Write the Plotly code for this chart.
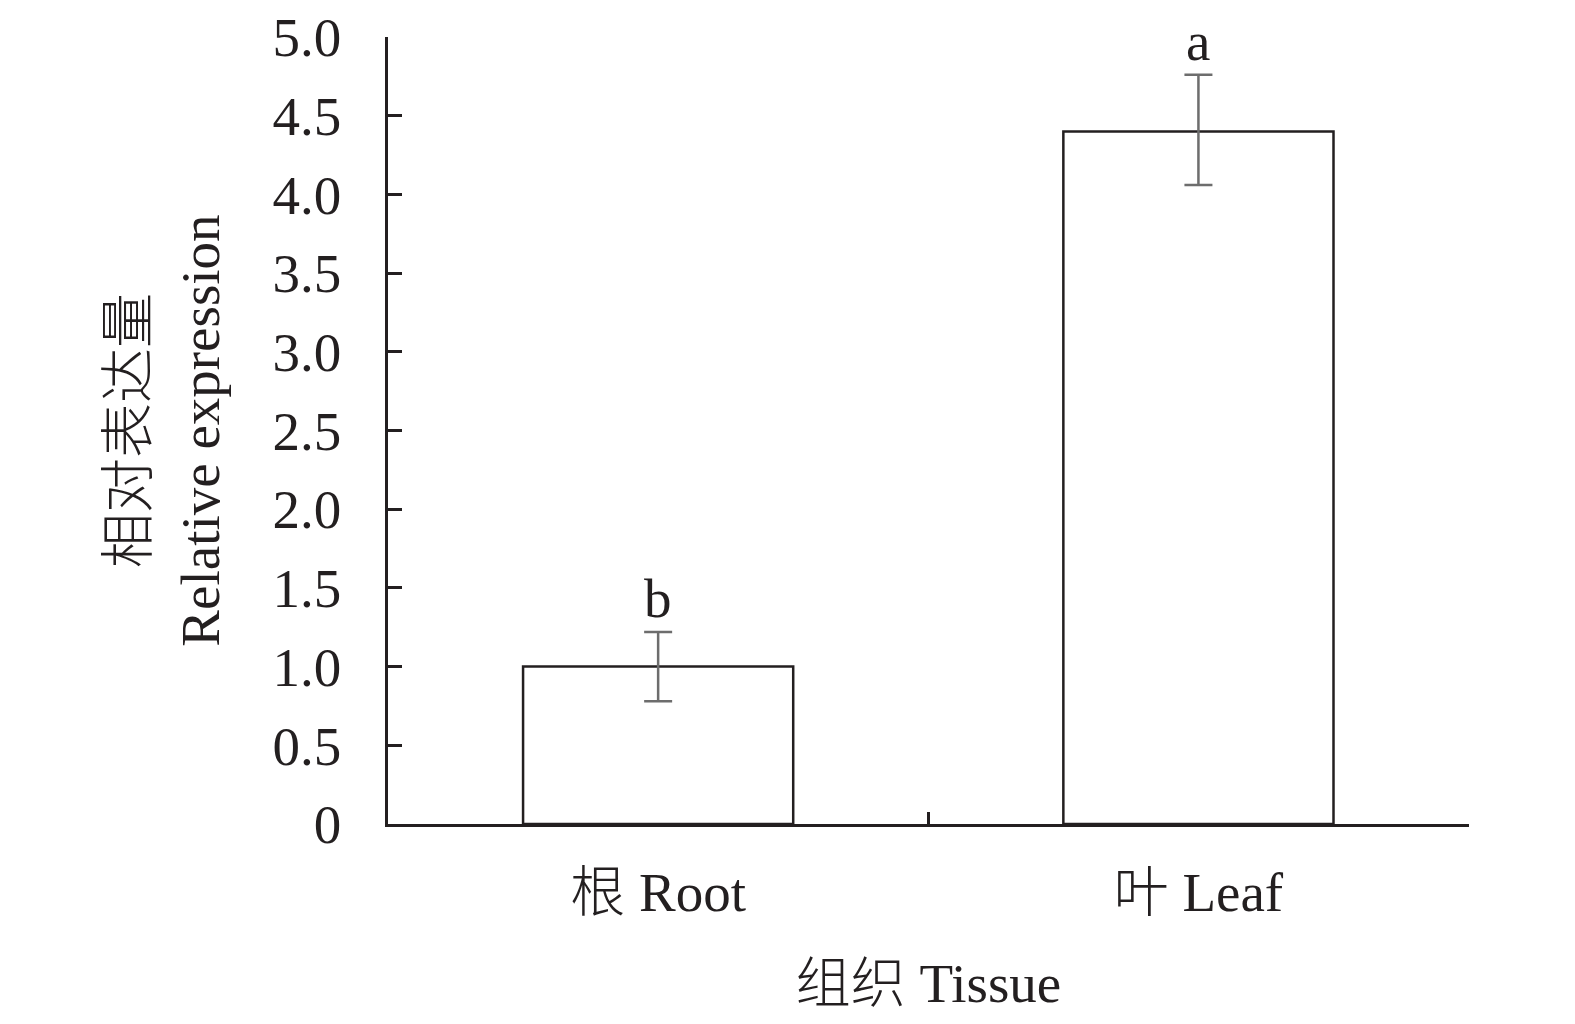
import plotly.graph_objects as go

categories = ["根 Root", "叶 Leaf"]
values = [1.0, 4.4]
err_plus = [0.22, 0.36]
err_minus = [0.22, 0.34]
letters = ["b", "a"]
y_ticks = [0, 0.5, 1.0, 1.5, 2.0, 2.5, 3.0, 3.5, 4.0, 4.5, 5.0]
y_tick_text = ["0", "0.5", "1.0", "1.5", "2.0", "2.5", "3.0", "3.5", "4.0", "4.5", "5.0"]

FONT = "Liberation Serif, Times New Roman, Noto Sans CJK SC, serif"
INK = "#231f20"
FS = 55

def f():
    return dict(family=FONT, size=FS, color=INK, weight=300)

fig = go.Figure()
fig.add_trace(go.Bar(
    x=categories, y=values, width=0.5,
    marker=dict(color="white", line=dict(color=INK, width=2.5)),
    error_y=dict(type="data", symmetric=False, array=err_plus, arrayminus=err_minus,
                 color="#6d6d6d", thickness=2.5, width=14),
    showlegend=False,
))

for c, v, e, t in zip(categories, values, err_plus, letters):
    fig.add_annotation(x=c, y=v + e, text=t, showarrow=False, yanchor="bottom",
                       yshift=1, font=f())

fig.update_layout(
    width=1567, height=1016,
    margin=dict(l=380, r=106, t=29, b=200, autoexpand=False),
    plot_bgcolor="white", paper_bgcolor="white",
    font=f(),
)
fig.update_xaxes(
    type="category", range=[-0.5, 1.5008], automargin=False,
    showline=True, linecolor=INK, linewidth=2.5,
    ticks="inside", tickson="boundaries", ticklen=12, tickwidth=2.5, tickcolor=INK,
    showgrid=False, zeroline=False,
    tickfont=f(),
    ticklabelstandoff=18,
    title=dict(text="组织 Tissue", font=f(), standoff=42),
)
fig.update_yaxes(
    range=[0, 5.0005], tickvals=y_ticks, ticktext=y_tick_text, automargin=False,
    showline=True, linecolor=INK, linewidth=2.5,
    ticks="inside", ticklen=14, tickwidth=2.5, tickcolor=INK,
    showgrid=False, zeroline=False,
    tickfont=f(), ticklabeloverflow="allow",
    ticklabelstandoff=33,
    title=dict(text="相对表达量<br>Relative expression", font=f(), standoff=36),
)

fig.write_html("out.html")
